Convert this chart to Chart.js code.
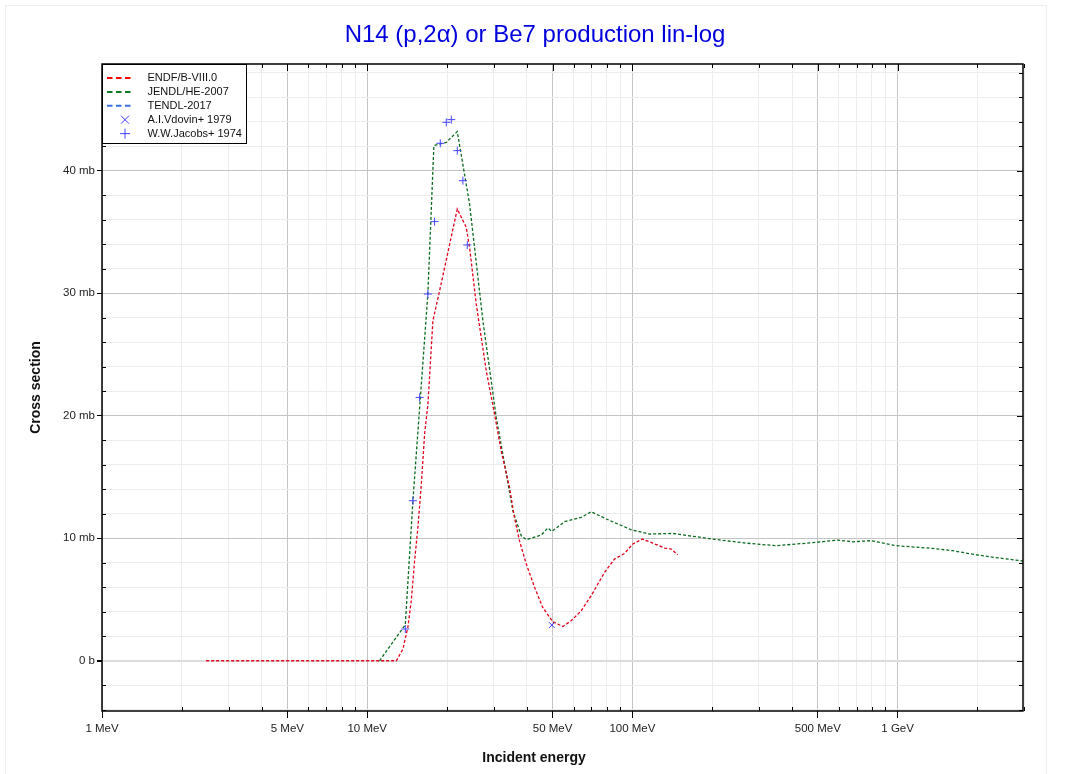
<!DOCTYPE html>
<html>
<head>
<meta charset="utf-8">
<script src="https://cdn.jsdelivr.net/npm/chart.js@4.4.1/dist/chart.umd.min.js"></script>
<style>
  html, body { margin: 0; padding: 0; background: #fff; }
</style>
</head>
<body>
<canvas id="xsChart" width="1067" height="774"></canvas>
<script>
// energies in MeV, cross sections in mb
var endfE = [2.47, 12.88, 13.63, 14.23, 14.66, 15.09, 15.53, 16.0, 16.46, 16.95, 17.69, 18.75, 21.86, 23.63, 24.32, 25.77, 28.11, 30.21, 32.0, 34.4, 35.9, 37.5, 39.8, 42.8, 45.9, 50.1, 54.7, 58.8, 64.1, 69.9, 78.5, 85.6, 93.4, 100.4, 108.9, 119.4, 132.1, 140, 148.3];
var endfXS = [0, 0, 0.95, 2.72, 4.9, 8.16, 10.88, 14.42, 18.5, 21.0, 27.76, 30.2, 36.87, 35.37, 33.74, 29.12, 23.67, 20.14, 17.14, 14.15, 11.7, 9.8, 7.89, 5.98, 4.35, 3.18, 2.8, 3.27, 4.08, 5.31, 7.21, 8.3, 8.76, 9.53, 9.93, 9.6, 9.2, 9.12, 8.65];

var jendlE = [11.13, 13.92, 14.87, 15.76, 16.93, 17.84, 19.87, 21.86, 24.32, 27.3, 30.66, 35.42, 38.09, 39.79, 45.3, 47.98, 49.7, 55.5, 64.1, 69.9, 79.7, 99.0, 116, 142, 164, 201, 268.5, 348, 493, 595, 677, 794.6, 987, 1356, 1614, 1976, 2420, 2921, 3000];
var jendlXS = [0, 2.94, 13.06, 20.6, 29.93, 42.04, 42.3, 43.18, 37.28, 27.76, 19.86, 12.24, 10.2, 9.88, 10.26, 10.83, 10.56, 11.35, 11.7, 12.16, 11.57, 10.69, 10.34, 10.39, 10.2, 9.93, 9.6, 9.39, 9.66, 9.85, 9.71, 9.8, 9.39, 9.17, 8.98, 8.65, 8.38, 8.16, 8.12];

var tendlE = [];
var tendlXS = [];

var vdovinE = [49.7];
var vdovinXS = [2.91];

var jacobsE = [13.92, 14.87, 15.76, 16.93, 17.95, 18.86, 19.87, 20.75, 21.86, 22.95, 23.84];
var jacobsXS = [2.59, 13.06, 21.49, 29.93, 35.84, 42.23, 43.94, 44.16, 41.63, 39.18, 33.93];

// axes
var xTickVals = [1, 5, 10, 50, 100, 500, 1000];
var xTickLabels = ["1 MeV", "5 MeV", "10 MeV", "50 MeV", "100 MeV", "500 MeV", "1 GeV"];
var yTickVals = [0, 10, 20, 30, 40];
var yTickLabels = ["0 b", "10 mb", "20 mb", "30 mb", "40 mb"];

var FONT = "'Liberation Sans', Arial, sans-serif";

var xGridVals = [];
for (var d = 1; d <= 1000; d *= 10) {
  for (var m = 1; m <= 9; m++) {
    if (m * d <= 3000) xGridVals.push(m * d);
  }
}
var yGridVals = [];
for (var v = -4; v <= 48; v += 2) yGridVals.push(v);

function toPoints(xs, ys) {
  return xs.map(function (x, i) { return { x: x, y: ys[i] }; });
}

function isMajorX(v) { return xTickVals.indexOf(v) >= 0; }
function isMajorY(v) { return yTickVals.indexOf(v) >= 0; }

var extrasPlugin = {
  id: "extras",
  beforeDraw: function (chart) {
    var c = chart.ctx;
    c.save();
    c.fillStyle = "#fff";
    c.fillRect(0, 0, chart.width, chart.height);
    c.strokeStyle = "#efefef";
    c.lineWidth = 1;
    c.strokeRect(5.5, 5.5, 1041, 790);
    c.restore();
  },
  afterDraw: function (chart) {
    var c = chart.ctx;
    var a = chart.chartArea;
    var xs = chart.scales.x, ys = chart.scales.y;
    c.save();
    c.strokeStyle = "#000";
    c.lineWidth = 1;
    c.beginPath();
    // small inner ticks on the frame
    xGridVals.forEach(function (val) {
      var px = Math.round(xs.getPixelForValue(val)) + 0.5;
      var len = isMajorX(val) ? 7 : 4;
      c.moveTo(px, a.top); c.lineTo(px, a.top + len);
      if (!isMajorX(val)) { c.moveTo(px, a.bottom); c.lineTo(px, a.bottom - 4); }
    });
    yGridVals.forEach(function (val) {
      var py = Math.round(ys.getPixelForValue(val)) + 0.5;
      var len = isMajorY(val) ? 6 : 4;
      c.moveTo(a.right, py); c.lineTo(a.right - len, py);
      if (!isMajorY(val)) { c.moveTo(a.left, py); c.lineTo(a.left + 4, py); }
    });
    c.stroke();

    // plot frame
    c.lineWidth = 1.5;
    c.strokeRect(a.left, a.top, a.right - a.left, a.bottom - a.top);

    // legend
    var lx = a.left + 0.5, ly = a.top + 0.5, lw = 144, lh = 79;
    c.fillStyle = "#fff";
    c.fillRect(lx, ly, lw, lh);
    c.lineWidth = 1;
    c.strokeStyle = "#000";
    c.strokeRect(lx, ly, lw, lh);
    c.font = "11px " + FONT;
    c.textBaseline = "middle";
    c.textAlign = "left";
    chart.data.datasets.forEach(function (ds, i) {
      var yy = ly + 13.5 + i * 13.9;
      if (ds.showLine) {
        c.strokeStyle = ds.legendColor || ds.borderColor;
        c.lineWidth = 2;
        c.setLineDash([5.5, 3.5]);
        c.beginPath();
        c.moveTo(lx + 4.5, yy); c.lineTo(lx + 31, yy);
        c.stroke();
        c.setLineDash([]);
      } else {
        c.strokeStyle = ds.borderColor;
        c.lineWidth = 1;
        c.beginPath();
        var cx = lx + 22.5, r = 4;
        if (ds.pointStyle === "crossRot") {
          c.moveTo(cx - r, yy - r); c.lineTo(cx + r, yy + r);
          c.moveTo(cx - r, yy + r); c.lineTo(cx + r, yy - r);
        } else {
          c.moveTo(cx - r - 1, yy); c.lineTo(cx + r + 1, yy);
          c.moveTo(cx, yy - r - 1); c.lineTo(cx, yy + r + 1);
        }
        c.stroke();
      }
      c.fillStyle = "#111";
      c.fillText(ds.label, lx + 45, yy);
    });

    // main title
    c.fillStyle = "#0000dd";
    c.font = "24px " + FONT;
    c.textAlign = "center";
    c.textBaseline = "middle";
    c.fillText("N14 (p,2\u03b1) or Be7 production lin-log", 535, 35);

    // x axis title
    c.fillStyle = "#111";
    c.font = "bold 14px " + FONT;
    c.fillText("Incident energy", 534, 758);
    c.restore();
  }
};

var ctx = document.getElementById("xsChart").getContext("2d");
var xsChart = new Chart(ctx, {
  type: "scatter",
  data: {
    datasets: [
      {
        label: "ENDF/B-VIII.0",
        data: toPoints(endfE, endfXS),
        showLine: true,
        borderColor: "#e0001a",
        legendColor: "#ff0000",
        borderWidth: 1.3,
        borderDash: [3, 2],
        pointRadius: 0,
        tension: 0,
        order: 1
      },
      {
        label: "JENDL/HE-2007",
        data: toPoints(jendlE, jendlXS),
        showLine: true,
        borderColor: "#0b6b1e",
        legendColor: "#0b7a22",
        borderWidth: 1.3,
        borderDash: [3, 2],
        pointRadius: 0,
        tension: 0,
        order: 2
      },
      {
        label: "TENDL-2017",
        data: toPoints(tendlE, tendlXS),
        showLine: true,
        borderColor: "#3b6fe0",
        borderWidth: 1.3,
        borderDash: [3, 2],
        pointRadius: 0,
        order: 3
      },
      {
        label: "A.I.Vdovin+ 1979",
        data: toPoints(vdovinE, vdovinXS),
        showLine: false,
        pointStyle: "crossRot",
        pointRadius: 4,
        borderColor: "#3a3aff",
        borderWidth: 1,
        order: 0
      },
      {
        label: "W.W.Jacobs+ 1974",
        data: toPoints(jacobsE, jacobsXS),
        showLine: false,
        pointStyle: "cross",
        pointRadius: 4,
        borderColor: "#4545ff",
        borderWidth: 1,
        order: 0
      }
    ]
  },
  options: {
    responsive: false,
    animation: false,
    devicePixelRatio: 1,
    layout: { padding: { top: 64, right: 44, left: 0, bottom: 0 } },
    plugins: {
      legend: { display: false },
      title: { display: false },
      tooltip: { enabled: false }
    },
    scales: {
      x: {
        type: "logarithmic",
        min: 1,
        max: 2970,
        afterBuildTicks: function (s) {
          s.ticks = xGridVals.map(function (val) { return { value: val }; });
        },
        afterFit: function (s) { s.height = 63; },
        border: { display: false },
        grid: {
          color: function (c) { return isMajorX(c.tick.value) ? "#c4c4c4" : "#ececec"; },
          lineWidth: 1,
          tickLength: 7,
          tickColor: function (c) { return isMajorX(c.tick.value) ? "#000" : "rgba(0,0,0,0)"; }
        },
        ticks: {
          autoSkip: false,
          maxRotation: 0,
          padding: 4,
          color: "#222",
          font: { size: 11.5, family: FONT },
          callback: function (val) {
            var k = xTickVals.indexOf(val);
            return k >= 0 ? xTickLabels[k] : "";
          }
        }
      },
      y: {
        type: "linear",
        min: -4.1,
        max: 48.7,
        afterBuildTicks: function (s) {
          s.ticks = yGridVals.map(function (val) { return { value: val }; });
        },
        afterFit: function (s) { s.width = 102; },
        border: { display: false },
        grid: {
          color: function (c) {
            var val = c.tick.value;
            if (val === 0) return "#dcdcdc";
            return isMajorY(val) ? "#c4c4c4" : "#ececec";
          },
          lineWidth: function (c) { return c.tick.value === 0 ? 2 : 1; },
          tickLength: 5,
          tickColor: function (c) { return isMajorY(c.tick.value) ? "#000" : "rgba(0,0,0,0)"; }
        },
        ticks: {
          autoSkip: false,
          padding: 2,
          color: "#222",
          font: { size: 11.5, family: FONT },
          callback: function (val) {
            var k = yTickVals.indexOf(val);
            return k >= 0 ? yTickLabels[k] : "";
          }
        },
        title: {
          display: true,
          text: "Cross section",
          color: "#111",
          font: { size: 14, weight: "bold", family: FONT, lineHeight: 1.2 },
          padding: { top: 28, bottom: 0 }
        }
      }
    }
  },
  plugins: [extrasPlugin]
});
</script>
</body>
</html>
